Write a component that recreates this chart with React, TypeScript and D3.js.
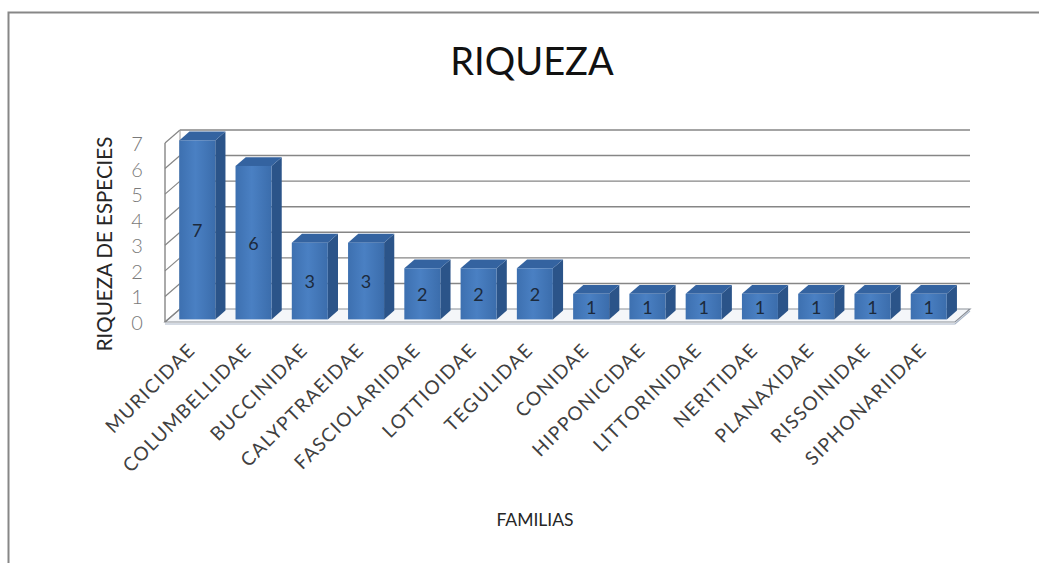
import React from "react";
import * as d3 from "d3";

const categories = [
  "MURICIDAE", "COLUMBELLIDAE", "BUCCINIDAE", "CALYPTRAEIDAE", "FASCIOLARIIDAE",
  "LOTTIOIDAE", "TEGULIDAE", "CONIDAE", "HIPPONICIDAE", "LITTORINIDAE",
  "NERITIDAE", "PLANAXIDAE", "RISSOINIDAE", "SIPHONARIIDAE",
];
const values = [7, 6, 3, 3, 2, 2, 2, 1, 1, 1, 1, 1, 1, 1];
const yTicks = [0, 1, 2, 3, 4, 5, 6, 7];
const title = "RIQUEZA";
const yTitle = "RIQUEZA DE ESPECIES";
const xTitle = "FAMILIAS";

const W = 1039;
const H = 563;
const FONT = "Lato, 'Open Sans', sans-serif";

export default function App() {
  const x0 = 165, x1 = 955;
  const DX = 15, DY = -13; // wall depth
  const bf = 0.2; // bar front depth fraction
  const bd = 0.68; // bar depth fraction

  const x = d3.scaleBand<string>().domain(categories).range([x0, x1]).paddingInner(0.36).paddingOuter(0.2);
  const y = d3.scaleLinear().domain([0, 7]).range([322, 143]);

  const floorFront = y(0);
  const bfx = DX * bf, bfy = DY * bf;
  const bdx = DX * bd, bdy = DY * bd;

  return (
    <svg width={W} height={H} style={{ position: "absolute", left: 0, top: 0, background: "#fff" }} fontFamily={FONT}>
      <defs>
        <linearGradient id="front" x1="0" x2="1" y1="0" y2="0">
          <stop offset="0" stopColor="#3d70b0" />
          <stop offset="0.45" stopColor="#4a80c3" />
          <stop offset="1" stopColor="#3b6dac" />
        </linearGradient>
      </defs>
      {/* frame */}
      <rect x={8.5} y={12.5} width={1100} height={600} fill="#fff" stroke="#878787" strokeWidth={2} />

      {/* title */}
      <text x={532} y={75} textAnchor="middle" fontSize={38} fill="#111">{title}</text>

      {/* floor */}
      <path
        d={`M${x0},${floorFront} L${x1},${floorFront} L${x1 + DX},${floorFront + DY} L${x0 + DX},${floorFront + DY} Z`}
        fill="#f4f6f9" stroke="#8a8f98" strokeWidth={1.2}
      />
      <path d={`M${x0},${floorFront + 2} L${x1},${floorFront + 2} L${x1 + DX},${floorFront + DY + 2}`} fill="none" stroke="#a9b6c8" strokeWidth={1.2} />

      {/* back wall gridlines */}
      {yTicks.map((t) => (
        <g key={t}>
          {t > 0 && (
            <line x1={x0 + DX} x2={x1 + DX} y1={y(t) + DY} y2={y(t) + DY} stroke="#868686" strokeWidth={1.4} />
          )}
          <line x1={x0} x2={x0 + DX} y1={y(t)} y2={y(t) + DY} stroke="#868686" strokeWidth={1.2} />
        </g>
      ))}
      <line x1={x0 + DX} x2={x0 + DX} y1={y(0) + DY} y2={y(7) + DY} stroke="#9a9a9a" strokeWidth={1} />
      <line x1={x0} x2={x0} y1={y(0)} y2={y(7)} stroke="#868686" strokeWidth={1.4} />

      {/* bars */}
      {categories.map((c, i) => {
        const v = values[i];
        const bx = (x(c) as number) + bfx;
        const bw = x.bandwidth();
        const base = floorFront + bfy;
        const top = y(v) + bfy;
        return (
          <g key={c}>
            <path
              d={`M${bx + bw},${top} L${bx + bw + bdx},${top + bdy} L${bx + bw + bdx},${base + bdy} L${bx + bw},${base} Z`}
              fill="#2b5489"
            />
            <path
              d={`M${bx},${top} L${bx + bdx},${top + bdy} L${bx + bw + bdx},${top + bdy} L${bx + bw},${top} Z`}
              fill="#3463a0"
            />
            <rect x={bx} y={top} width={bw} height={base - top} fill="url(#front)" />
            <text x={bx + bw / 2} y={(top + base) / 2} textAnchor="middle" dominantBaseline="central" fontSize={18} fill="#1c2a3c">
              {v}
            </text>
          </g>
        );
      })}

      {/* y tick labels */}
      {yTicks.map((t) => (
        <text key={t} x={137} y={y(t)} textAnchor="middle" dominantBaseline="central" fontSize={20} fontWeight={300} fill="#7a7a7a">
          {t}
        </text>
      ))}

      {/* y title */}
      <text transform={`translate(104,${244}) rotate(-90)`} textAnchor="middle" dominantBaseline="central" fontSize={20.5} fill="#262626">
        {yTitle}
      </text>

      {/* x labels */}
      {categories.map((c) => {
        const cx = (x(c) as number) + x.bandwidth() / 2 - 3;
        const cy = 346;
        return (
          <text key={c} transform={`translate(${cx},${cy}) rotate(-45)`} textAnchor="end" dominantBaseline="central" fontSize={19} letterSpacing={1.4} fill="#404040">
            {c}
          </text>
        );
      })}

      {/* x title */}
      <text x={535} y={526} textAnchor="middle" fontSize={17.5} fill="#262626">{xTitle}</text>
    </svg>
  );
}
